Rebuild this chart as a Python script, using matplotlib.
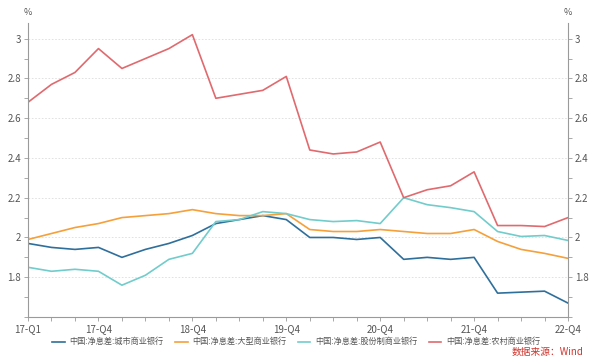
import matplotlib.pyplot as plt
from matplotlib.ticker import MultipleLocator, FixedLocator

plt.rcParams['font.family'] = ['Noto Sans CJK SC', 'DejaVu Sans']

# 季度
quarters = [f"{y}-Q{q}" for y in range(17, 23) for q in range(1, 5)]

# 净息差 (%)
city = [1.97, 1.95, 1.94, 1.95, 1.90, 1.94, 1.97, 2.01, 2.07, 2.09, 2.11, 2.09,
        2.00, 2.00, 1.99, 2.00, 1.89, 1.90, 1.89, 1.90, 1.72, 1.725, 1.73, 1.67]
large = [1.99, 2.02, 2.05, 2.07, 2.10, 2.11, 2.12, 2.14, 2.12, 2.11, 2.11, 2.12,
         2.04, 2.03, 2.03, 2.04, 2.03, 2.02, 2.02, 2.04, 1.98, 1.94, 1.92, 1.895]
joint = [1.85, 1.83, 1.84, 1.83, 1.76, 1.81, 1.89, 1.92, 2.08, 2.09, 2.13, 2.12,
         2.09, 2.08, 2.085, 2.07, 2.20, 2.165, 2.15, 2.13, 2.03, 2.005, 2.01, 1.985]
rural = [2.68, 2.77, 2.83, 2.95, 2.85, 2.90, 2.95, 3.02, 2.70, 2.72, 2.74, 2.81,
         2.44, 2.42, 2.43, 2.48, 2.20, 2.24, 2.26, 2.33, 2.06, 2.06, 2.055, 2.10]

labels = ["中国:净息差:城市商业银行", "中国:净息差:大型商业银行",
          "中国:净息差:股份制商业银行", "中国:净息差:农村商业银行"]
colors = ["#2f6f9b", "#f5a03a", "#72cccc", "#e06a6e"]

tick_labels = ["17-Q1", "17-Q4", "18-Q4", "19-Q4", "20-Q4", "21-Q4", "22-Q4"]
tick_pos = [quarters.index(t) for t in tick_labels]

fig = plt.figure(figsize=(6, 3.58), dpi=100)
ax = fig.add_axes([0.0467, 0.1145, 0.9, 0.822])

x = list(range(len(quarters)))
for s, lab, c in zip([city, large, joint, rural], labels, colors):
    ax.plot(x, s, color=c, lw=1.2, label=lab)

ax.set_xlim(0, len(quarters) - 1)
ax.set_ylim(1.6, 3.08)

gray = "#9a9a9a"
ax.yaxis.set_major_locator(FixedLocator([1.8, 2.0, 2.2, 2.4, 2.6, 2.8, 3.0]))
ax.yaxis.set_minor_locator(MultipleLocator(0.1))
ax.set_yticklabels(["1.8", "2", "2.2", "2.4", "2.6", "2.8", "3"])
ax.set_xticks(tick_pos)
ax.set_xticklabels(tick_labels)
ax.xaxis.set_minor_locator(MultipleLocator(1))
ax.grid(axis='y', which='major', color="#dddddd", ls=(0, (2, 2)), lw=0.6)

for sp in ["top"]:
    ax.spines[sp].set_visible(False)
for sp in ["left", "right", "bottom"]:
    ax.spines[sp].set_color(gray)
    ax.spines[sp].set_linewidth(0.8)

ax.tick_params(axis='both', which='both', colors=gray, labelcolor="#555555",
               labelsize=7, length=3, width=0.6, pad=2)
ax.tick_params(axis='y', which='both', left=True, right=True,
               labelleft=True, labelright=True)

fig.text(0.0467, 0.965, "%", ha='center', va='center', fontsize=6.5, color="#555555")
fig.text(0.9467, 0.965, "%", ha='center', va='center', fontsize=6.5, color="#555555")

fig.legend(loc='center', bbox_to_anchor=(0.494, 0.045), ncol=4, frameon=False,
           fontsize=5.9, handlelength=1.5, handletextpad=0.6, columnspacing=1.4,
           labelcolor="#555555")
fig.text(0.972, 0.018, "数据来源：Wind", ha='right', va='center', fontsize=7,
         color="#d0342c")

fig.savefig("out.png", dpi=100)
